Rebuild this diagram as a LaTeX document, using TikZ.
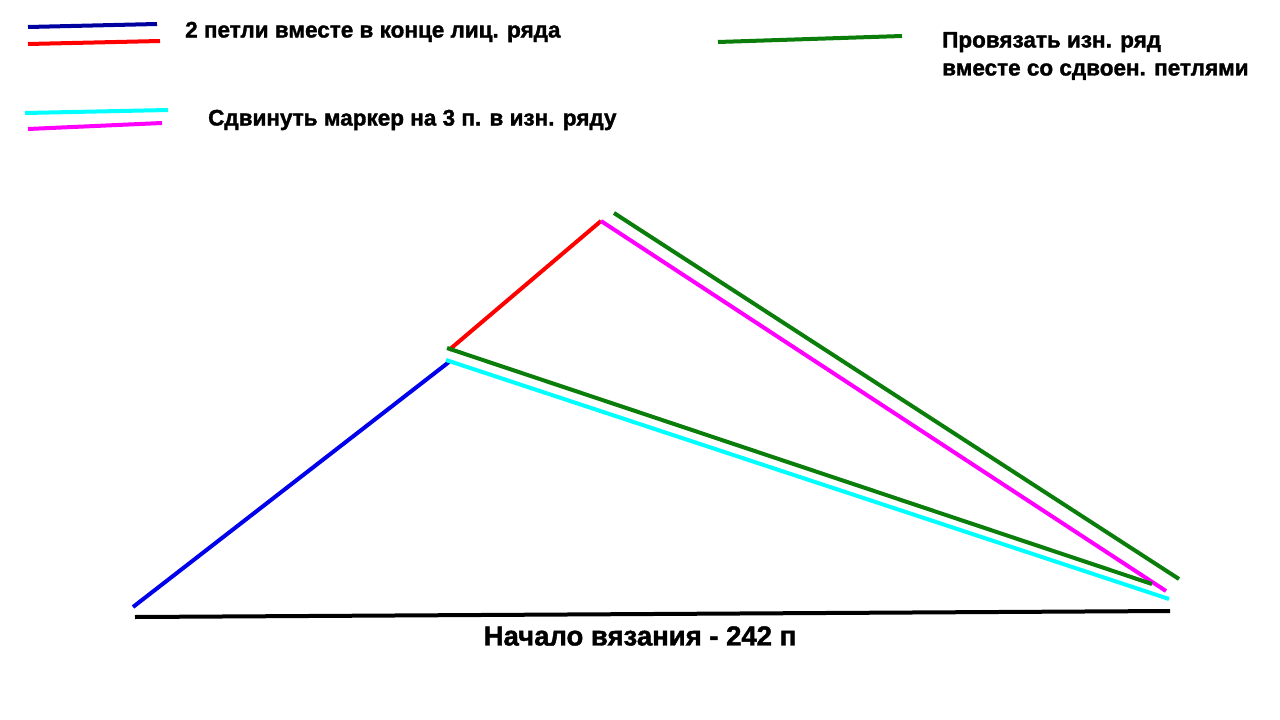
\documentclass[tikz,border=0pt]{standalone}
\usepackage{fontspec}
\setmainfont{Liberation Sans}[BoldFeatures={FakeBold=1.5}]
\definecolor{navyline}{RGB}{0,0,160}
\definecolor{blueline}{RGB}{0,0,235}
\definecolor{redline}{RGB}{255,0,0}
\definecolor{greenline}{RGB}{10,125,10}
\definecolor{cyanline}{RGB}{0,255,255}
\definecolor{magentaline}{RGB}{255,0,255}
\tikzset{
	seam/.style={line width=4pt},
	legendtext/.style={anchor=west, font=\bfseries\fontsize{22.5}{28}\selectfont, align=left, inner sep=0pt}
}

\begin{document}
\begin{tikzpicture}[x=1pt, y=-1pt]
					\useasboundingbox[fill=white] (0,0) rectangle (1280,720);
					
					\coordinate (B) at (133,607);
					\coordinate (L) at (449,362);
					\coordinate (T) at (601,221);
					\coordinate (R) at (1168,593);
					
					\draw[seam, navyline] (28,27) -- (157,24);
					\draw[seam, redline] (28,44) -- (160,41);
					\node[legendtext] (tA) at (185,32) {2 петли вместе в конце лиц. ряда};
					
					\draw[seam, cyanline] (25,113) -- (168,110);
					\draw[seam, magentaline] (28,129) -- (162,123);
					\node[legendtext] (tB) at (208,120) {Сдвинуть маркер на 3 п. в изн. ряду};
					
					\draw[seam, greenline] (718,42) -- (902,36);
					\node[legendtext] (tC) at (942,56) {Провязать изн. ряд\\вместе со сдвоен. петлями};
					
					\draw[seam, blueline] (B) -- (L);
					\draw[seam, redline] (449,350) -- (T);
					\draw[seam, magentaline] (T) -- (1166,591);
					\draw[seam, greenline] (614,213) -- (1179,579);
					\draw[seam, greenline] (447,348) -- (1152,584);
					\draw[seam, cyanline] (446,360) -- (1169,599);
					\draw[seam, black] (135,617) -- (1170,611);
					
					\node[font=\bfseries\fontsize{27.5}{32}\selectfont, inner sep=0pt] (base) at (640,636) {Начало вязания - 242 п};
				\end{tikzpicture}
\end{document}
